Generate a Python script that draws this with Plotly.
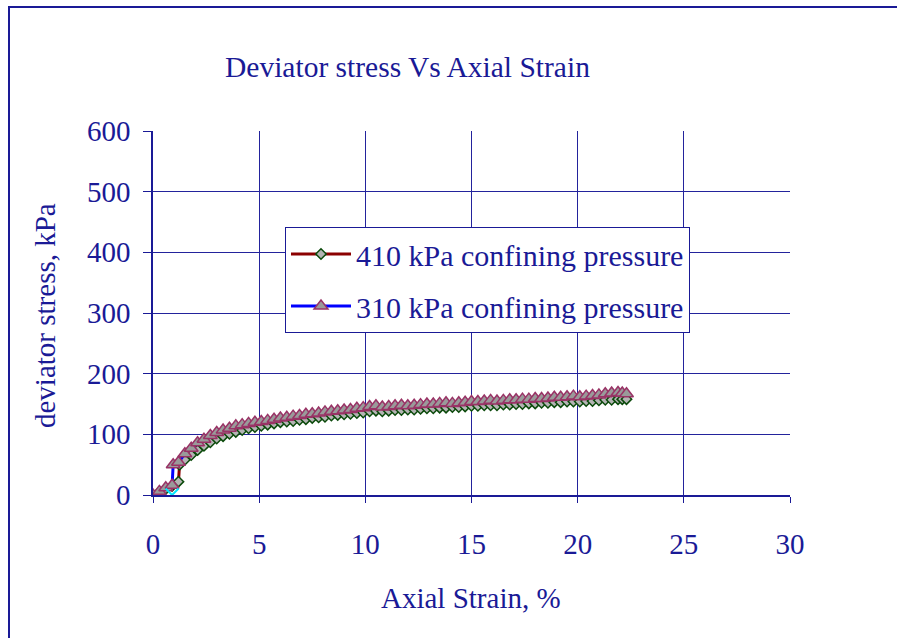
import plotly.graph_objects as go

# ---- data ----
strain_310 = [0, 0.3, 0.6, 0.9, 0.95, 1.2, 1.5, 1.8, 2.1, 2.4, 2.7, 3.0, 3.3, 3.6, 3.9,
              4.2, 4.5, 4.8, 5.1, 5.4, 5.7, 6.0, 6.3, 6.6, 6.9, 7.2, 7.5, 7.8, 8.1,
              8.4, 8.7, 9.0, 9.3, 9.6, 9.9, 10.2, 10.5, 10.8, 11.1, 11.4, 11.7, 12.0,
              12.3, 12.6, 12.9, 13.2, 13.5, 13.8, 14.1, 14.4, 14.7, 15.0, 15.3, 15.6,
              15.9, 16.2, 16.5, 16.8, 17.1, 17.4, 17.7, 18.0, 18.3, 18.6, 18.9, 19.2,
              19.5, 19.8, 20.1, 20.4, 20.7, 21.0, 21.3, 21.6, 21.9, 22.1, 22.3]
stress_310 = [0, 6, 12, 16, 50, 54, 68, 77, 86, 92, 98, 103, 107, 110, 114,
              116, 118, 120, 121, 123, 125, 127, 128, 130, 131, 133, 134, 135, 137,
              138, 139, 140, 141, 143, 144, 146, 147, 145, 146, 147, 148, 147,
              148, 149, 150, 150, 151, 152, 151, 152, 153, 154, 154, 155,
              156, 155, 156, 157, 157, 158, 158, 159, 159, 160, 161, 161,
              162, 163, 162, 163, 164, 165, 167, 168, 169, 168, 167]

strain_410 = [0, 0.3, 0.6, 0.9, 1.2, 1.25, 1.5, 1.8, 2.1, 2.4, 2.7, 3.0, 3.3, 3.6, 3.9,
              4.2, 4.5, 4.8, 5.1, 5.4, 5.7, 6.0, 6.3, 6.6, 6.9, 7.2, 7.5, 7.8, 8.1,
              8.4, 8.7, 9.0, 9.3, 9.6, 9.9, 10.2, 10.5, 10.8, 11.1, 11.4, 11.7, 12.0,
              12.3, 12.6, 12.9, 13.2, 13.5, 13.8, 14.1, 14.4, 14.7, 15.0, 15.3, 15.6,
              15.9, 16.2, 16.5, 16.8, 17.1, 17.4, 17.7, 18.0, 18.3, 18.6, 18.9, 19.2,
              19.5, 19.8, 20.1, 20.4, 20.7, 21.0, 21.3, 21.6, 21.9, 22.1, 22.3]
stress_410 = [0, 5, 10, 15, 22, 50, 58, 66, 74, 81, 87, 93, 97, 101, 104,
              107, 110, 112, 114, 116, 118, 120, 121, 122, 124, 125, 127, 128, 129,
              131, 132, 133, 134, 135, 136, 138, 139, 138, 139, 140, 140, 141,
              141, 142, 143, 143, 144, 144, 145, 145, 146, 147, 147, 148,
              148, 148, 149, 149, 150, 150, 151, 151, 152, 152, 153, 153,
              154, 154, 154, 155, 155, 156, 157, 157, 158, 158, 158]

extra_x = [0.9]
extra_y = [0]

x_ticks = [0, 5, 10, 15, 20, 25, 30]
y_ticks = [0, 100, 200, 300, 400, 500, 600]

NAVY = "#1a1a96"
GRID = "#23239c"
FONT = "Liberation Serif"
FS = 29

fig = go.Figure()
fig.add_trace(go.Scatter(
    x=strain_410, y=stress_410, mode="lines+markers",
    name="410 kPa confining pressure", legendgroup="a",
    line=dict(color="#8b0000", width=3),
    marker=dict(symbol="diamond", size=8, color="#b4b4b4",
                line=dict(color="#0b4a0b", width=1.5)),
))
fig.add_trace(go.Scatter(
    x=strain_310, y=stress_310, mode="lines+markers",
    name="310 kPa confining pressure", legendgroup="b",
    line=dict(color="#0000ff", width=3),
    marker=dict(symbol="triangle-up", size=12, color="#9a9a9a",
                line=dict(color="#993366", width=1.5)),
))
fig.add_trace(go.Scatter(
    x=extra_x, y=extra_y, mode="markers", showlegend=False,
    marker=dict(symbol="x-thin", size=13, color="#00e5ff",
                line=dict(color="#00e5ff", width=2)),
))

# plot area in pixels: x 153..790, y 131..495
L, R, T, B = 153, 790, 131, 495
W, H = 897, 638
def px(xp):
    return (xp - L) / (R - L)
def py(yp):
    return (B - yp) / (B - T)

fig.update_layout(
    width=W, height=H,
    margin=dict(l=L, r=W - R, t=T, b=H - B, pad=0),
    paper_bgcolor="white", plot_bgcolor="white",
    font=dict(family=FONT, size=FS, color=NAVY),
    showlegend=True,
    legend=dict(
        x=px(285), y=py(227), xanchor="left", yanchor="top",
        bgcolor="white", bordercolor=NAVY, borderwidth=1,
        font=dict(family=FONT, size=30, color=NAVY),
        tracegroupgap=10, itemwidth=60,
    ),
    xaxis=dict(
        range=[0, 30], tickvals=x_ticks, ticktext=[str(v) for v in x_ticks],
        showgrid=True, gridcolor=GRID, gridwidth=1.2,
        showline=True, linecolor=NAVY, linewidth=1.5,
        ticks="outside", ticklen=6, tickcolor=NAVY,
        ticklabelstandoff=16, zeroline=False,
        tickfont=dict(family=FONT, size=FS, color=NAVY),
    ),
    yaxis=dict(
        range=[0, 600], tickvals=y_ticks, ticktext=[str(v) for v in y_ticks],
        showgrid=True, gridcolor=GRID, gridwidth=1.2,
        showline=True, linecolor=NAVY, linewidth=1.5,
        ticks="outside", ticklen=8, tickcolor=NAVY,
        ticklabelstandoff=7, zeroline=False,
        tickfont=dict(family=FONT, size=FS, color=NAVY),
    ),
    annotations=[
        dict(text="Deviator stress Vs Axial Strain", xref="paper", yref="paper",
             x=px(407), y=py(67), xanchor="center", yanchor="middle",
             showarrow=False, font=dict(family=FONT, size=29.5, color=NAVY)),
        dict(text="Axial Strain, %", xref="paper", yref="paper",
             x=px(471), y=py(598), xanchor="center", yanchor="middle",
             showarrow=False, font=dict(family=FONT, size=29, color=NAVY)),
        dict(text="deviator stress, kPa", xref="paper", yref="paper",
             x=px(45), y=py(316), xanchor="center", yanchor="middle",
             textangle=-90, showarrow=False,
             font=dict(family=FONT, size=29, color=NAVY)),
    ],
    shapes=[
        dict(type="line", xref="paper", yref="paper",
             x0=px(8), x1=px(897), y0=py(7), y1=py(7),
             line=dict(color=NAVY, width=2)),
        dict(type="line", xref="paper", yref="paper",
             x0=px(9), x1=px(9), y0=py(6), y1=py(640),
             line=dict(color=NAVY, width=2)),
    ],
)

fig.write_html("out.html", config={"displayModeBar": False},
               post_script="document.body.style.margin='0';document.body.style.overflow='hidden';")
